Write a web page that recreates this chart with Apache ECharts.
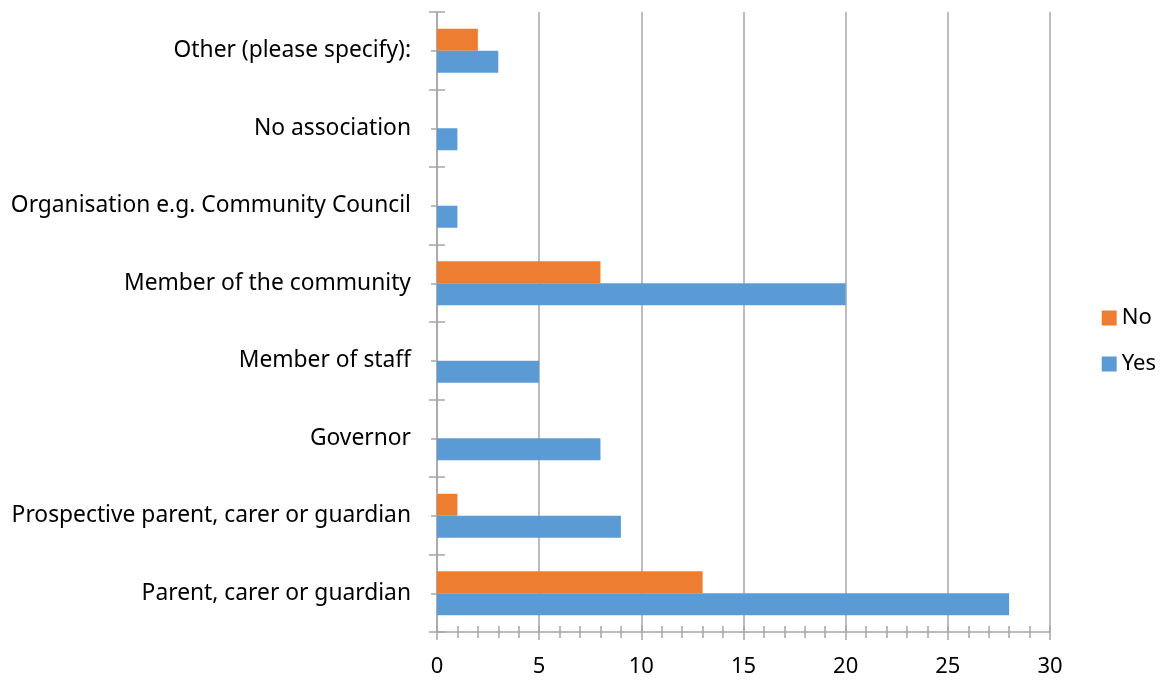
<!DOCTYPE html>
<html>
<head>
<meta charset="utf-8">
<script src="https://cdn.jsdelivr.net/npm/echarts@6/dist/echarts.min.js"></script>
<style>html,body{margin:0;padding:0;background:#fff}#c{width:1165px;height:681px}</style>
</head>
<body>
<div id="c"></div>
<script>
const categories = ['Parent, carer or guardian','Prospective parent, carer or guardian','Governor','Member of staff','Member of the community','Organisation e.g. Community Council','No association','Other (please specify):'];
const yesValues = [28, 9, 8, 5, 20, 1, 1, 3];
const noValues = [13, 1, 0, 0, 8, 0, 0, 2];
const xTicks = [0, 5, 10, 15, 20, 25, 30];

const FONT = 'Noto Sans';
const GRAY = '#a6a6a6';
const halfBands = categories.flatMap((c, i) => ['lo' + i, 'hi' + i]);
const chart = echarts.init(document.getElementById('c'));
const xCommon = {type:'value', min:xTicks[0], max:xTicks[xTicks.length-1], interval:5, position:'bottom'};
chart.setOption({
  animation:false,
  textStyle:{fontFamily:FONT},
  grid:{left:437, right:115, top:12, bottom:49, containLabel:false},
  legend:{orient:'vertical', right:4, top:302, itemWidth:15, itemHeight:15, itemGap:24,
    textStyle:{fontFamily:FONT, fontSize:22, color:'#000'}, data:['No','Yes'], icon:'rect'},
  xAxis:[
    Object.assign({}, xCommon, {
      axisLine:{show:true, lineStyle:{color:GRAY, width:1.5}},
      axisTick:{show:true, inside:false, length:8, lineStyle:{color:GRAY, width:1.5}},
      minorTick:{show:true, splitNumber:5, length:6, lineStyle:{color:GRAY, width:1.5}},
      splitLine:{show:true, lineStyle:{color:GRAY, width:1.5}},
      axisLabel:{fontFamily:FONT, fontSize:22, color:'#000', margin:24}
    }),
    Object.assign({}, xCommon, {
      axisLine:{show:false},
      axisTick:{show:true, inside:true, length:6, lineStyle:{color:GRAY, width:1.5}},
      minorTick:{show:true, splitNumber:5, length:6, lineStyle:{color:GRAY, width:1.5}},
      splitLine:{show:false},
      axisLabel:{show:false}
    })
  ],
  yAxis:[
    {type:'category', data:categories, position:'left',
      axisLine:{show:true, lineStyle:{color:GRAY, width:1.5}},
      axisTick:{show:true, inside:false, interval:0, length:8, lineStyle:{color:GRAY, width:1.5}},
      axisLabel:{fontFamily:FONT, fontSize:22.8, color:'#000', margin:26, interval:0},
      splitLine:{show:false}},
    {type:'category', data:categories, position:'left',
      axisLine:{show:false},
      axisTick:{show:true, inside:true, interval:0, length:8, lineStyle:{color:GRAY, width:1.5}},
      axisLabel:{show:false}, splitLine:{show:false}},
    {type:'category', data:halfBands, position:'left',
      axisLine:{show:false},
      axisTick:{show:true, inside:false, interval:0, length:6, lineStyle:{color:GRAY, width:1.5}},
      axisLabel:{show:false}, splitLine:{show:false}}
  ],
  series:[
    {name:'No', type:'bar', data:noValues, barWidth:22, barGap:'0%', itemStyle:{color:'#ed7d31'}, xAxisIndex:0, yAxisIndex:0},
    {name:'Yes', type:'bar', data:yesValues, barWidth:22, barGap:'0%', itemStyle:{color:'#5b9bd5'}, xAxisIndex:0, yAxisIndex:0}
  ]
});
</script>
</body>
</html>
